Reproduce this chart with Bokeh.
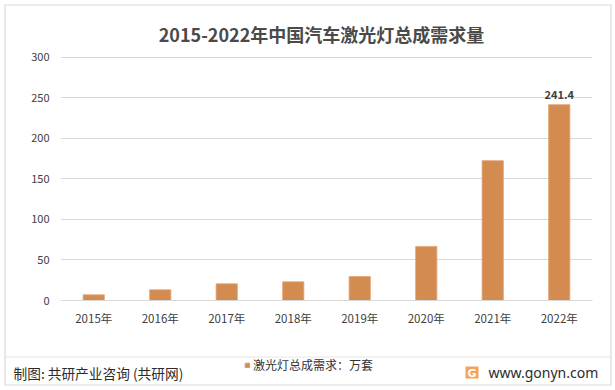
import numpy as np
from bokeh.plotting import figure
from bokeh.models import (Legend, LegendItem, ColumnDataSource, FixedTicker, Range1d, LabelSet)
from bokeh.core.properties import value
from bokeh.embed import file_html
from bokeh.resources import INLINE

# ---- data ----
years = ["2015年", "2016年", "2017年", "2018年", "2019年", "2020年", "2021年", "2022年"]
demand = [7.0, 13.2, 20.6, 23.0, 29.6, 66.7, 172.4, 241.4]
y_ticks = [0, 50, 100, 150, 200, 250, 300]
series_name = "激光灯总成需求：万套"
title_text = "2015-2022年中国汽车激光灯总成需求量"
source_text = "制图: 共研产业咨询 (共研网)"
site_text = "www.gonyn.com"

CJK = "Noto Sans CJK SC"
BAR = "#D38B4F"
BAR_EDGE = "#E2A679"
GRID = "#D9D9D9"
TXT = "#404040"
W, H = 615, 390

# ---------- background / decoration layer (frame = whole canvas, y measured from top) ----------
deco = figure(width=W, height=H, x_range=Range1d(0, W), y_range=Range1d(H, 0),
              output_backend="svg", toolbar_location=None,
              x_axis_type=None, y_axis_type=None,
              min_border_left=0, min_border_right=0, min_border_top=0, min_border_bottom=0)
deco.title.visible = False
deco.outline_line_color = None
deco.xgrid.visible = False
deco.ygrid.visible = False
deco.background_fill_color = "white"
deco.border_fill_color = "white"

# outer frame and footer separator
deco.quad(left=[4.5], right=[610.5], top=[4.5], bottom=[384.5],
          fill_alpha=0, line_color=GRID, line_width=1.2)
deco.segment(x0=[4.5], y0=[356.5], x1=[610.5], y1=[356.5], line_color="#E6E6E6", line_width=1)

deco.text(x=[321], y=[33], text=[title_text], text_align="center", text_baseline="middle",
          text_font=value(CJK), text_font_size=value("18px"), text_font_style="bold",
          text_color="#4a4a4a")
deco.text(x=[13], y=[372], text=[source_text], text_align="left", text_baseline="middle",
          text_font=value(CJK), text_font_size=value("13.7px"), text_color="#2b2b2b")
# logo
deco.quad(left=[465], right=[478], top=[366], bottom=[378], fill_color="#F4A25A",
          line_color=None)
deco.text(x=[471.5], y=[372.5], text=["G"], text_align="center", text_baseline="middle",
          text_font=value("DejaVu Sans"), text_font_size=value("11px"), text_font_style="bold",
          text_color="white")
deco.text(x=[488], y=[372], text=[site_text], text_align="left", text_baseline="middle",
          text_font=value("Noto Sans"), text_font_size=value("14px"), text_color="#2b2b2b")

# legend swatch proxy (same style as the bars, no visible mark) and legend
swatch = deco.vbar(x=[np.nan], top=[np.nan], width=1, fill_color=BAR, line_color=BAR_EDGE,
                   line_width=0.8)
legend = Legend(items=[LegendItem(label=series_name, renderers=[swatch])],
                location=(244, 17), orientation="horizontal",
                padding=0, margin=0, spacing=0, border_line_color=None,
                background_fill_alpha=0, glyph_width=6, glyph_height=6, label_height=12,
                label_standoff=3, label_text_font=CJK, label_text_font_size="12px",
                label_text_color="#333333")
deco.add_layout(legend, "center")

# ---------- chart layer ----------
p = figure(x_range=years, y_range=Range1d(0, 302), width=W, height=H,
           output_backend="svg", toolbar_location=None, css_classes=["fg"],
           min_border_left=60, min_border_right=23, min_border_top=55, min_border_bottom=90)
p.outline_line_color = None
p.background_fill_alpha = 0
p.border_fill_alpha = 0

src = ColumnDataSource(dict(year=years, demand=demand))
p.vbar(x="year", top="demand", width=0.32, source=src,
       fill_color=BAR, line_color=BAR_EDGE, line_width=0.8)

p.xgrid.grid_line_color = None
p.ygrid.grid_line_color = GRID

p.yaxis.ticker = FixedTicker(ticks=y_ticks)
p.yaxis.axis_line_color = None
p.yaxis.major_tick_line_color = None
p.yaxis.minor_tick_line_color = None
p.yaxis.major_label_standoff = 5
p.yaxis.major_label_text_font = CJK
p.yaxis.major_label_text_font_size = "11px"
p.yaxis.major_label_text_color = TXT

p.xaxis.axis_line_color = GRID
p.xaxis.major_tick_line_color = None
p.xaxis.minor_tick_line_color = None
p.xaxis.major_label_standoff = 3
p.xaxis.major_label_text_font = CJK
p.xaxis.major_label_text_font_size = "11.5px"
p.xaxis.major_label_text_color = TXT

lab_src = ColumnDataSource(dict(x=[years[-1]], y=[demand[-1]], t=[f"{demand[-1]:.1f}"]))
p.add_layout(LabelSet(x="x", y="y", text="t", source=lab_src, text_align="center",
                      text_baseline="bottom", y_offset=6, text_font=value(CJK),
                      text_font_size=value("11px"), text_font_style="bold",
                      text_color="#404040"))

html = file_html([deco, p], INLINE)
css = ("<style>html,body{margin:0;padding:0;overflow:hidden}"
       ".fg{position:absolute !important;left:0 !important;top:0 !important}</style>")
html = html.replace("<head>", "<head>" + css, 1)
open("out.html", "w").write(html)
